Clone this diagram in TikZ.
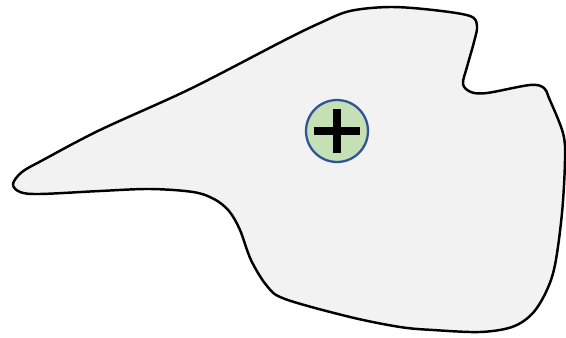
\documentclass[tikz,border=0pt]{standalone}
\usepackage{tikz}
\definecolor{BlobFill}{HTML}{F2F2F2}
\definecolor{BlobLine}{HTML}{000000}
\definecolor{PlusFill}{HTML}{C5E0B4}
\definecolor{PlusRing}{HTML}{2F5597}

\begin{document}
\begin{tikzpicture}[x=0.02cm,y=-0.02cm]
      \useasboundingbox (0,0) rectangle (566,338);
      \draw[BlobLine,fill=BlobFill,line width=1.4pt,line join=round]
        plot[smooth cycle,tension=0.55] coordinates {
          (13,184) (22,172) (43,160) (100,130) (190,89) (283,41) (320,23)
          (350,11) (390,7) (433,10) (470,16) (477,26) (474,42) (467,67) (463,84)
          (471,92) (487,93) (530,85) (544,88) (549,98) (563,133) (565,160)
          (562,213) (555,265) (546,292) (532,314) (512,327) (480,332) (433,330)
          (400,327) (350,317) (285,299) (267,286) (251,260) (240,230) (229,211)
          (214,199) (193,192) (150,189) (100,191) (40,194) (20,192)};
      \node[circle,draw=PlusRing,fill=PlusFill,line width=1.3pt,minimum size=1.24cm,inner sep=0pt]
        (plus) at (337,131) {};
      \draw[line width=4.6pt] ([xshift=-0.46cm]plus.center) -- ([xshift=0.46cm]plus.center);
      \draw[line width=4.6pt] ([yshift=-0.45cm]plus.center) -- ([yshift=0.45cm]plus.center);
    \end{tikzpicture}
\end{document}
